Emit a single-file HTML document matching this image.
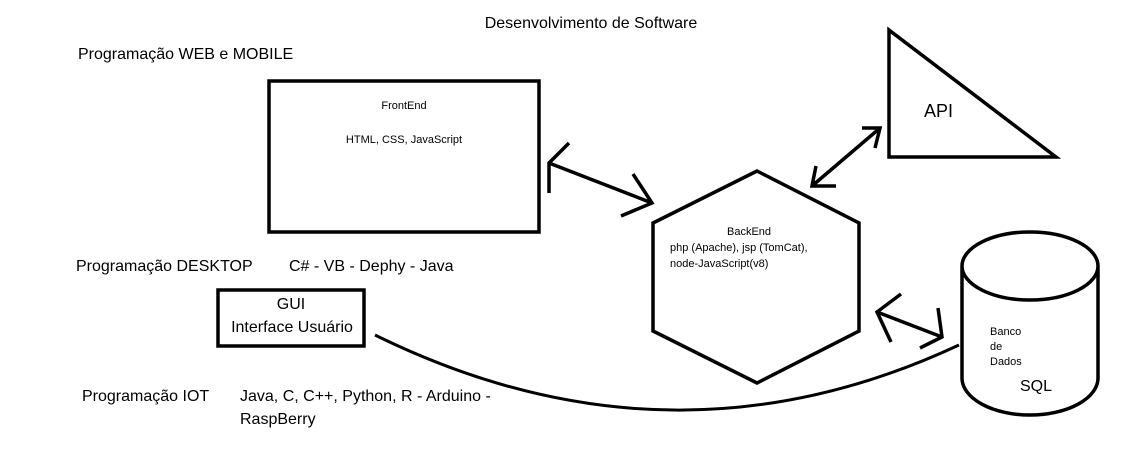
<!DOCTYPE html>
<html><head><meta charset="utf-8"><style>
html,body{margin:0;padding:0;background:#fff;}
svg text{font-family:"Liberation Sans",sans-serif;fill:#000;}
</style></head><body>
<svg width="1121" height="457" viewBox="0 0 1121 457" xmlns="http://www.w3.org/2000/svg">
<g fill="none" stroke="#000" stroke-width="3.5">
<rect x="269" y="81" width="270" height="151"/>
<rect x="218" y="290" width="146" height="56"/>
<polygon points="757,171 859,223 859,331 757,383 653,331 653,223"/>
<polygon points="889,30 1056,157 889,157"/>
<path d="M962,266 A68,34 0 0 1 1098,266 A68,34 0 0 1 962,266 M962,266 L962,378 A68,37 0 0 0 1098,378 L1098,266"/>
<path d="M549,163 L652,203 M569,143 L549,163 L549,193 M633,174 L652,203 L621,216"/>
<path d="M812,186 L880,128 M862,128 L880,128 L875,148 M816,166 L812,186 L836,186"/>
<path d="M877,312 L942,337 M901,294 L877,312 L891,342 M938,308 L942,337 L920,348"/>
<path d="M375,335 Q670,480 959,345" stroke-width="3"/>
</g>
<text x="591" y="28" font-size="16" text-anchor="middle">Desenvolvimento de Software</text>
<text x="78" y="59" font-size="16">Programação WEB e MOBILE</text>
<text x="404" y="109" font-size="11" text-anchor="middle">FrontEnd</text>
<text x="404" y="143" font-size="11" text-anchor="middle">HTML, CSS, JavaScript</text>
<text x="76" y="271" font-size="16">Programação DESKTOP</text>
<text x="289" y="271" font-size="16">C# - VB - Dephy - Java</text>
<text x="291" y="309" font-size="16" text-anchor="middle">GUI</text>
<text x="292" y="332" font-size="16" text-anchor="middle">Interface Usuário</text>
<text x="82" y="401" font-size="16">Programação IOT</text>
<text x="240" y="401" font-size="16">Java, C, C++, Python, R - Arduino -</text>
<text x="240" y="424" font-size="16">RaspBerry</text>
<text x="749" y="235" font-size="11" text-anchor="middle">BackEnd</text>
<text x="670" y="251" font-size="11">php (Apache), jsp (TomCat),</text>
<text x="670" y="267" font-size="11">node-JavaScript(v8)</text>
<text x="924" y="117" font-size="18">API</text>
<text x="990" y="335" font-size="11">Banco</text>
<text x="990" y="350" font-size="11">de</text>
<text x="990" y="365" font-size="11">Dados</text>
<text x="1020" y="391" font-size="16">SQL</text>
</svg>
</body></html>
